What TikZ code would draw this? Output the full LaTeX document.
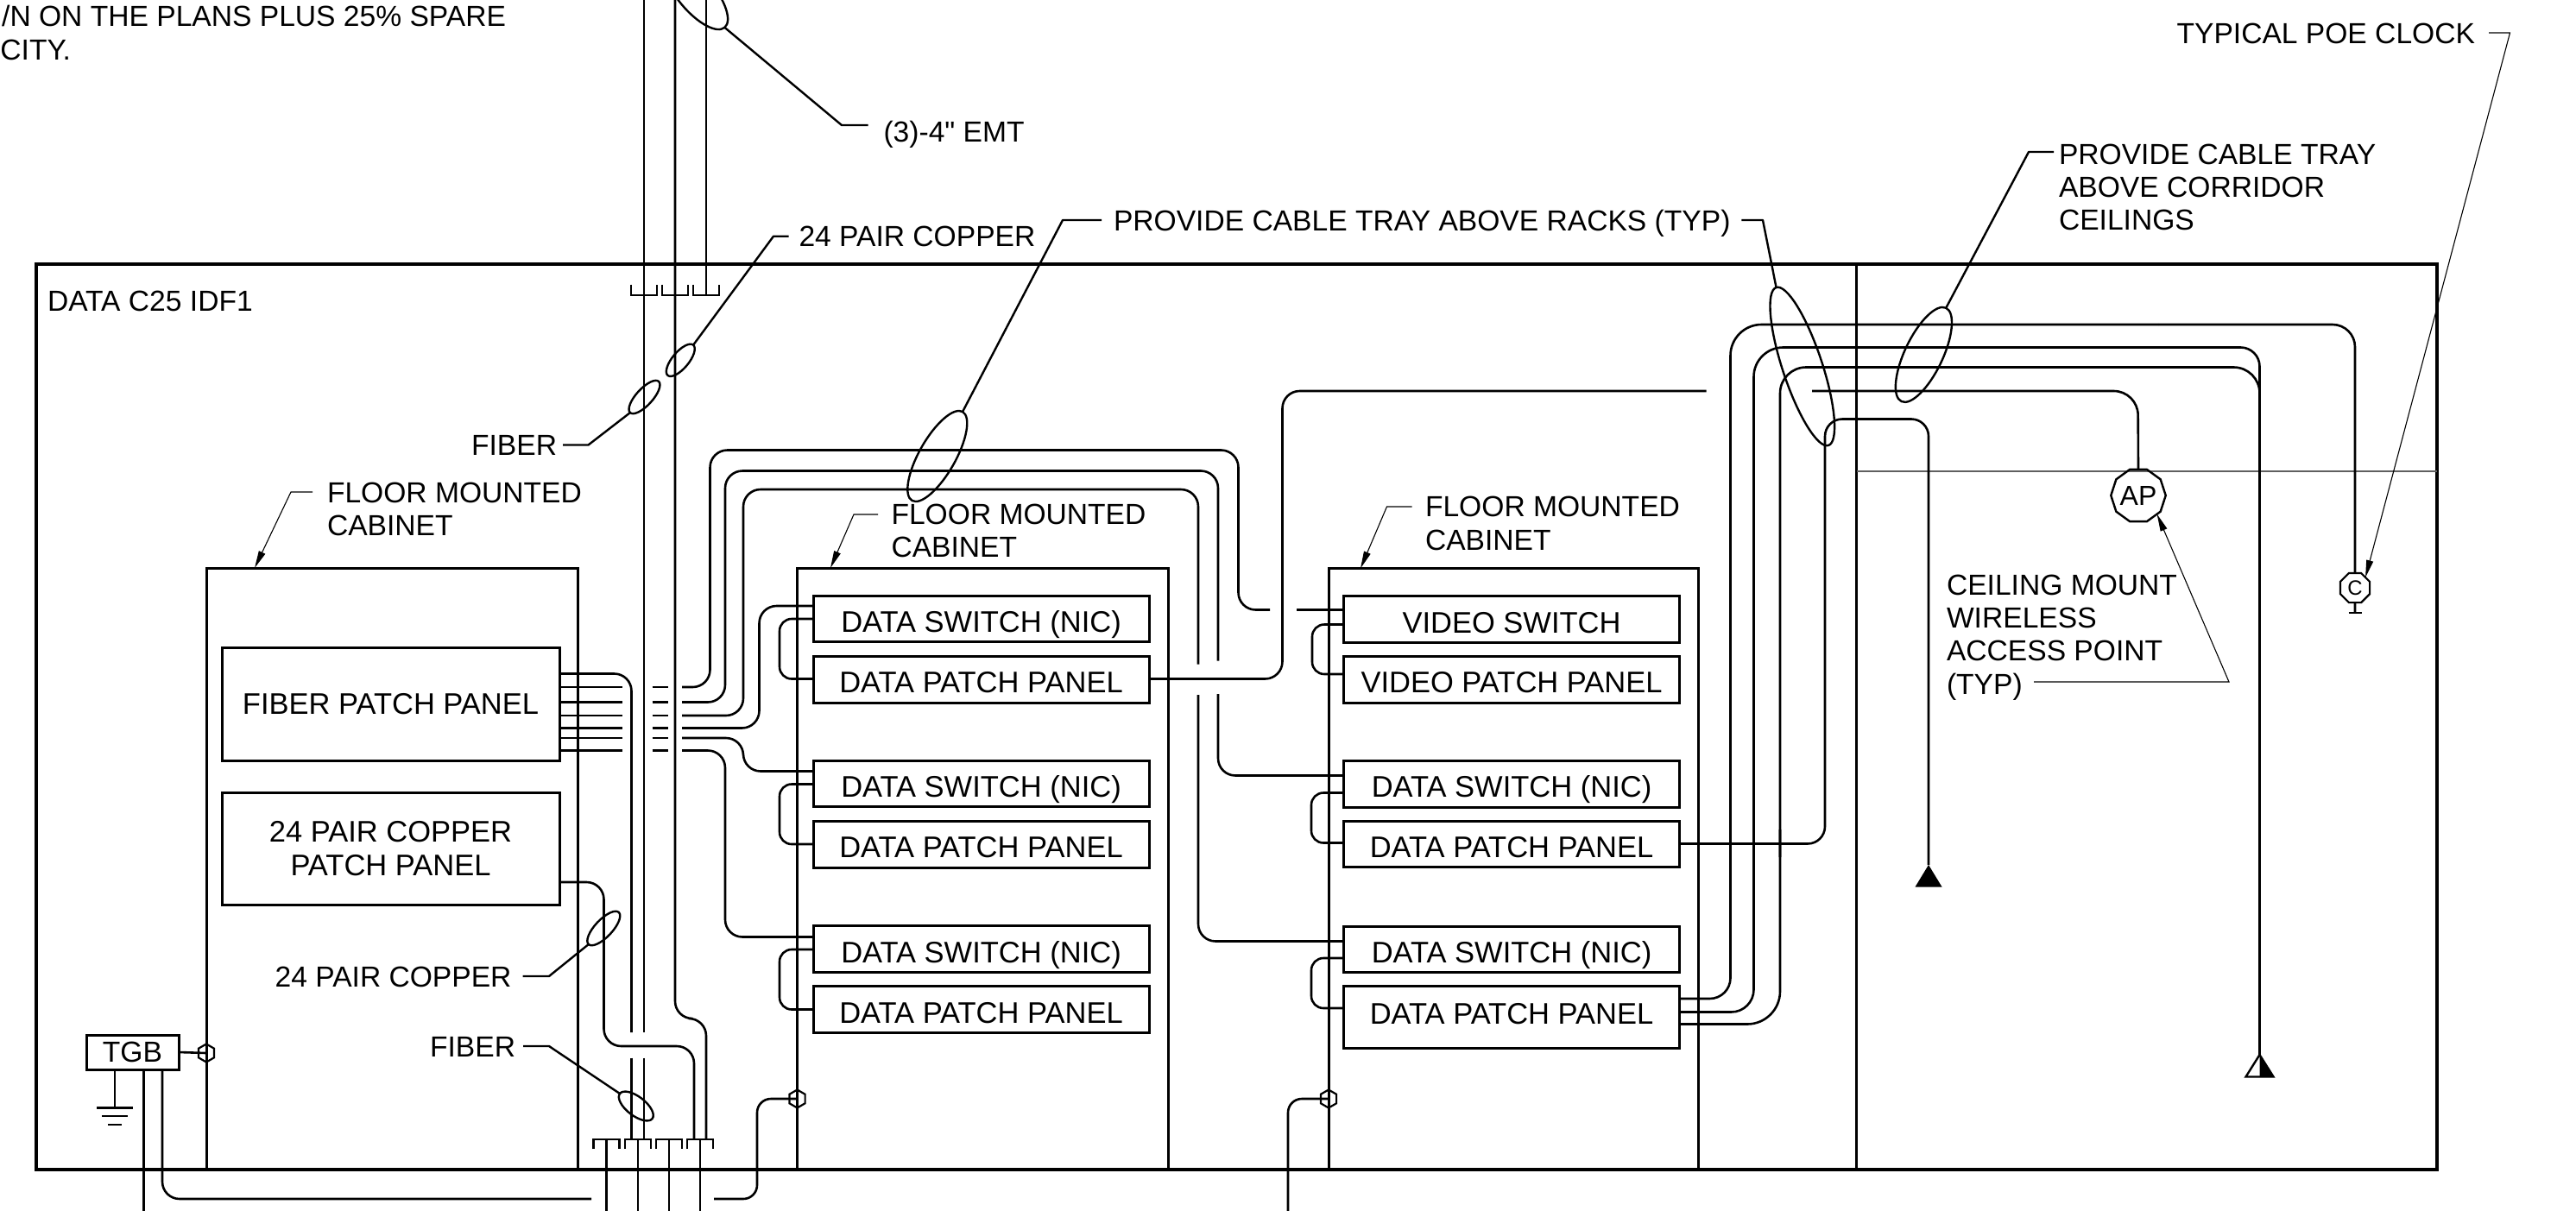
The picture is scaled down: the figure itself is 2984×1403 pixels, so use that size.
\documentclass[tikz,border=0pt]{standalone}
\usepackage{fontspec}
\setmainfont{Liberation Sans}
\newfontfamily\plainf{Liberation Sans}
\usetikzlibrary{shapes.geometric,arrows.meta}
\newcommand{\mybx}[7][]{% style, name, x1,y1,x2,y2, text
  \node[#2,minimum width={(#5-#3)*0.5pt},minimum height={(#6-#4)*0.5pt}] (#1) at ({(#3+#5)/2},{(#4+#6)/2}) {#7};}
\newcommand{\myov}[6]{% name,x,y,len,minor,angle
  \node[oval,minimum width={#4*0.5pt},minimum height={#5*0.5pt},rotate=#6] (#1) at (#2,#3) {};}
\tikzset{
  x=0.5pt,y=-0.5pt,
  every node/.style={font=\fontsize{16.8}{19.2}\selectfont,inner sep=0pt,outer sep=0pt},
  wire/.style={line width=1.3pt,rounded corners=10pt,line join=round},
  stub/.style={line width=1.3pt},
  lead/.style={line width=1.2pt,line join=round},
  thinlead/.style={line width=0.55pt,-{Triangle[length=10pt,width=4pt]}},
  framebox/.style={draw,line width=1.6pt},
  cab/.style={draw,line width=1.5pt},
  panel/.style={draw,line width=1.5pt,text height=15.5pt,text depth=0pt,font=\fontsize{17.25}{19.2}\selectfont},
  panelb/.style={draw,line width=1.5pt,align=center,font=\fontsize{17.25}{19.2}\selectfont},
  oval/.style={draw,ellipse,line width=1.2pt},
  lab/.style={text height=12pt,text depth=0pt},
  multi/.style={align=left,anchor=west},
  hexa/.style={draw,regular polygon,regular polygon sides=6,shape border rotate=30,minimum size=10.5pt,line width=1.1pt},
  tick/.style={line width=1.3pt,line join=miter},
}
\begin{document}
\begin{tikzpicture}
\useasboundingbox (0,0) rectangle (2984,1403);
\clip (0,0) rectangle (2984,1403);

% text at top left
\node[lab,anchor=east] (topa) at (586,18) {/N ON THE PLANS PLUS 25\% SPARE};
\node[lab,anchor=east] (topb) at (82,57) {CITY.};

% frames
\mybx[frame]{framebox}{42}{306}{2823}{1355}{}
\coordinate (divT) at (2150.5,306);
\coordinate (divB) at (2150.5,1355);
\draw[line width=1.4pt] (divT) -- (divB);
\coordinate (ceilL) at (2150.5,546);
\coordinate (ceilR) at (2823,546);
\draw[line width=0.9pt,gray!75!black] (ceilL) -- (ceilR);
\node[lab,anchor=west] (idf) at (55,348) {DATA C25 IDF1};

% cabinets
\mybx[cabA]{cab}{239}{658}{669.5}{1355}{}
\mybx[cabB]{cab}{923.5}{658}{1353}{1355}{}
\mybx[cabC]{cab}{1539}{658.5}{1967}{1355}{}

% cabinet A panels
\mybx[fp]{panelb}{257}{750.5}{648}{881}{FIBER PATCH PANEL}
\mybx[cp]{panelb}{257}{918}{648}{1048}{24 PAIR COPPER\\PATCH PANEL}

% cabinet B
\mybx[bsa]{panel}{942}{690}{1331}{743.5}{DATA SWITCH (NIC)}
\mybx[bpa]{panel}{942}{760}{1331}{814}{DATA PATCH PANEL}
\mybx[bsb]{panel}{942}{881.5}{1331}{934.5}{DATA SWITCH (NIC)}
\mybx[bpb]{panel}{942}{951.5}{1331}{1005}{DATA PATCH PANEL}
\mybx[bsc]{panel}{942}{1072.5}{1331}{1126.5}{DATA SWITCH (NIC)}
\mybx[bpc]{panel}{942}{1142.5}{1331}{1196.5}{DATA PATCH PANEL}

% cabinet C
\mybx[vs]{panel}{1556.5}{690.5}{1945.5}{744.5}{VIDEO SWITCH}
\mybx[vp]{panel}{1556.5}{760.5}{1945.5}{814}{VIDEO PATCH PANEL}
\mybx[csb]{panel}{1556.5}{881}{1945.5}{935}{DATA SWITCH (NIC)}
\mybx[cpb]{panel}{1556.5}{951.5}{1945.5}{1004.5}{DATA PATCH PANEL}
\mybx[csc]{panel}{1556.5}{1073}{1945.5}{1126.5}{DATA SWITCH (NIC)}
\mybx[cpc]{panel,text height=8pt}{1556.5}{1142.5}{1945.5}{1214}{DATA PATCH PANEL}

% jumpers
\foreach \s/\p/\ya/\yb/\xx in {bsa/bpa/717/786.5/903,bsb/bpb/908.5/978/903,bsc/bpc/1100/1169.5/903,vs/vp/723.5/781/1520,csb/cpb/918.5/976.5/1519,csc/cpc/1110/1168/1519}
  \draw[wire,rounded corners=7pt] (\s.west |- 0,\ya) -- (\xx,\ya) -- (\xx,\yb) -- (\p.west |- 0,\yb);

% upper risers
\foreach \xx/\yy in {746/342,782/342,818/342}
  \draw[tick] ({\xx-15},329.5) -- ({\xx-15},342) -- ({\xx+15},342) -- ({\xx+15},329.5);
\coordinate (ra) at (746,0);
\coordinate (rb) at (782,0);
\coordinate (rc) at (818,0);
\draw[stub] (rc) -- (818,342);
\draw[stub] (ra) -- (746,1196);
\coordinate (rbl) at (818,1320);
\draw[wire] (rb) -- (782,1180) -- (818,1180) -- (rbl);

% lower risers
\foreach \xx in {702.5,739,775,811}{
  \draw[tick] ({\xx-15},1331) -- ({\xx-15},1320) -- ({\xx+15},1320) -- ({\xx+15},1331);
  \draw[stub] (\xx,1320) -- (\xx,1403);
}
\draw[stub] (746,1225.5) -- (746,1320);
\draw[stub] (731.5,1225.5) -- (731.5,1320);

% fibre patch panel
\draw[wire] (fp.east |- 0,780.5) -- (731.5,780.5) -- (731.5,1196);
\foreach \yy in {796,813.5,829,843.5,855,869.5}{
  \draw[stub] (fp.east |- 0,\yy) -- (721,\yy);
  \draw[stub] (755.5,\yy) -- (773.5,\yy);
}
\draw[wire] (790,796) -- (822.5,796) -- (822.5,521.5) -- (1434.5,521.5) -- (1434.5,706.5) -- (1471,706.5);
\draw[stub] (1502,706.5) -- (vs.west |- 0,706.5);
\draw[wire] (790,813.5) -- (840,813.5) -- (840,545.5) -- (1411,545.5) -- (1411,765.5);
\draw[wire] (1411,804) -- (1411,898.5) -- (csb.west |- 0,898.5);
\draw[wire] (790,829) -- (861,829) -- (861,567) -- (1388,567) -- (1388,769.5);
\draw[wire] (1388,805) -- (1388,1090.5) -- (csc.west |- 0,1090.5);
\draw[wire] (790,843.5) -- (879.5,843.5) -- (879.5,702) -- (bsa.west |- 0,702);
\draw[wire] (790,855) -- (861,855) -- (861,893.5) -- (bsb.west |- 0,893.5);
\draw[wire] (790,869.5) -- (840,869.5) -- (840,1085.5) -- (bsc.west |- 0,1085.5);

% 24 pair copper
\draw[wire] (cp.east |- 0,1022) -- (699.5,1022) -- (699.5,1212) -- (804,1212) -- (804,1320);

% TGB and bonding
\mybx[tgb]{panelb,font=\fontsize{16.8}{19.2}\selectfont}{100}{1199}{207}{1239}{TGB}
\node[hexa] (ha) at (239,1220) {};
\node[hexa] (hb) at (923.5,1273) {};
\node[hexa] (hc) at (1539,1273) {};
\draw[stub] (tgb.east) -- (ha.center);
\coordinate (gnd) at (133,1283.5);
\draw[stub] (tgb.south -| gnd) -- (gnd);
\draw[line width=1.4pt] (112,1283.5) -- (154,1283.5) (118,1293) -- (148,1293) (125,1303) -- (141,1303);
\draw[stub] (tgb.south -| 166.5,0) -- (166.5,1403);
\draw[wire] (tgb.south -| 188,0) -- (188,1389) -- (685,1389);
\draw[wire,rounded corners=8pt] (827,1389) -- (877,1389) -- (877,1273) -- (hb.center);
\draw[wire,rounded corners=8pt] (1492,1403) -- (1492,1273) -- (hc.center);

% terminals
\node[draw,regular polygon,regular polygon sides=10,minimum size=29pt,line width=1.2pt,font=\fontsize{16}{18}\selectfont] (ap) at (2477,574) {AP};
\node[draw,regular polygon,regular polygon sides=8,minimum size=18.5pt,line width=1.1pt,font=\fontsize{12}{14}\selectfont] (clk) at (2728,681) {C};
\coordinate (clkb) at (2728,710);
\draw[stub] (clk.south) -- (clkb);
\draw[stub] (2720.5,710) -- (2735.5,710);
\coordinate (tria) at (2234,1002);
\coordinate (trib) at (2617.5,1222);
\fill (tria) -- (2249.5,1027.5) -- (2218.5,1027.5) -- cycle;
\draw[line width=1.2pt,line join=miter] (trib) -- (2633.5,1247.5) -- (2601.5,1247.5) -- cycle;
\fill (trib) -- (2633.5,1247.5) -- (2617.5,1247.5) -- cycle;

% out to corridor
\draw[wire] (bpa.east |- 0,786.5) -- (1485.5,786.5) -- (1485.5,453) -- (1976.5,453);
\draw[wire,rounded corners=14pt] (2099,453) -- (2476.5,453) -- (ap.north);
\draw[wire] (cpb.east |- 0,977.5) -- (2114,977.5) -- (2114,485.5) -- (2234,485.5) -- (tria);
\draw[wire,rounded corners=12pt] (cpc.east |- 0,1157) -- (2004.5,1157) -- (2004.5,961);
\draw[wire,rounded corners=18pt] (2004.5,993) -- (2004.5,376) -- (2500,376);
\draw[wire,rounded corners=13pt] (2500,376) -- (2728,376) -- (clk.north);
\draw[wire,rounded corners=13pt] (cpc.east |- 0,1172.5) -- (2031.5,1172.5) -- (2031.5,961);
\draw[wire,rounded corners=17pt] (2031.5,993) -- (2031.5,402.5) -- (2400,402.5);
\draw[wire,rounded corners=11pt] (2400,402.5) -- (2617.5,402.5) -- (trib);
\draw[wire,rounded corners=19pt] (cpc.east |- 0,1186.5) -- (2062,1186.5) -- (2062,961);
\draw[wire,rounded corners=15pt] (2062,993) -- (2062,425.5) -- (2617.5,425.5) -- (2617.5,470);

% ovals
\myov{oa}{1085.8}{528.5}{118.4}{42}{60.4}
\myov{ob}{2087.8}{424.5}{192.7}{46}{108.3}
\myov{oc}{2228.4}{410.9}{120}{44}{64.5}
\myov{od}{806}{-8}{104}{42}{-50}
\myov{oe}{788.3}{417.3}{46}{19}{50}
\myov{of}{746.5}{460}{49}{19}{47.5}
\myov{og}{699.3}{1075.5}{51}{20}{46.6}
\myov{oh}{736.8}{1281.5}{47.5}{22}{-37.6}

% labels with leaders
\node[lab,anchor=west] (lemt) at (1023.5,152) {(3)-4{\plainf "} EMT};
\draw[lead] ([xshift=-9pt,yshift=3.5pt]lemt.west) -- (975,145) -- (od.east);
\node[lab,anchor=west] (lcu) at (925.5,273.7) {24 PAIR COPPER};
\draw[lead] ([xshift=-6pt]lcu.west) -- (896,273.7) -- (oe.east);
\node[lab,anchor=west] (ltray) at (1290,255) {PROVIDE CABLE TRAY ABOVE RACKS (TYP)};
\draw[lead] ([xshift=-7pt]ltray.west) -- (1231,255) -- (oa.east);
\draw[lead] ([xshift=6.5pt]ltray.east) -- (2042,255) -- (ob.east);
\node[multi] (lcor) at (2385,217) {PROVIDE CABLE TRAY\\ABOVE CORRIDOR\\CEILINGS};
\draw[lead] ([xshift=-3pt]lcor.west |- 0,176) -- (2350,176) -- (oc.east);
\node[lab,anchor=east] (lfa) at (645,515.5) {FIBER};
\draw[lead] ([xshift=3.5pt]lfa.east) -- (681.5,515.5) -- (of.west);
\node[lab,anchor=east] (lcl) at (592.5,1131) {24 PAIR COPPER};
\draw[lead] ([xshift=6.5pt]lcl.east) -- (636,1131) -- (og.west);
\node[lab,anchor=east] (lfb) at (597,1212) {FIBER};
\draw[lead] ([xshift=4.5pt]lfb.east) -- (636,1212) -- (oh.west);

\node[multi] (lca) at (379,590) {FLOOR MOUNTED\\CABINET};
\coordinate (lcas) at (362,570);
\draw[thinlead] (lcas) -- (337,570) -- (295,570 |- cabA.north);
\node[multi] (lcb) at (1032.5,615) {FLOOR MOUNTED\\CABINET};
\coordinate (lcbs) at (1017,596);
\draw[thinlead] (lcbs) -- (989,596) -- (962,570 |- cabB.north);
\node[multi] (lcc) at (1651,606.5) {FLOOR MOUNTED\\CABINET};
\coordinate (lccs) at (1635.5,587);
\draw[thinlead] (lccs) -- (1606.5,587) -- (1576,570 |- cabC.north);

\node[lab,anchor=east] (lclk) at (2867,38) {TYPICAL POE CLOCK};
\draw[thinlead] ([xshift=8pt]lclk.east) -- (2907.5,38) -- (clk.north east);
\node[multi] (lap) at (2255,738.5) {CEILING MOUNT\\WIRELESS\\ACCESS POINT\\(TYP)};
\coordinate (laps) at (2356,790);
\draw[thinlead] (laps) -- (2582,790) -- (ap.south east);
\end{tikzpicture}
\end{document}
